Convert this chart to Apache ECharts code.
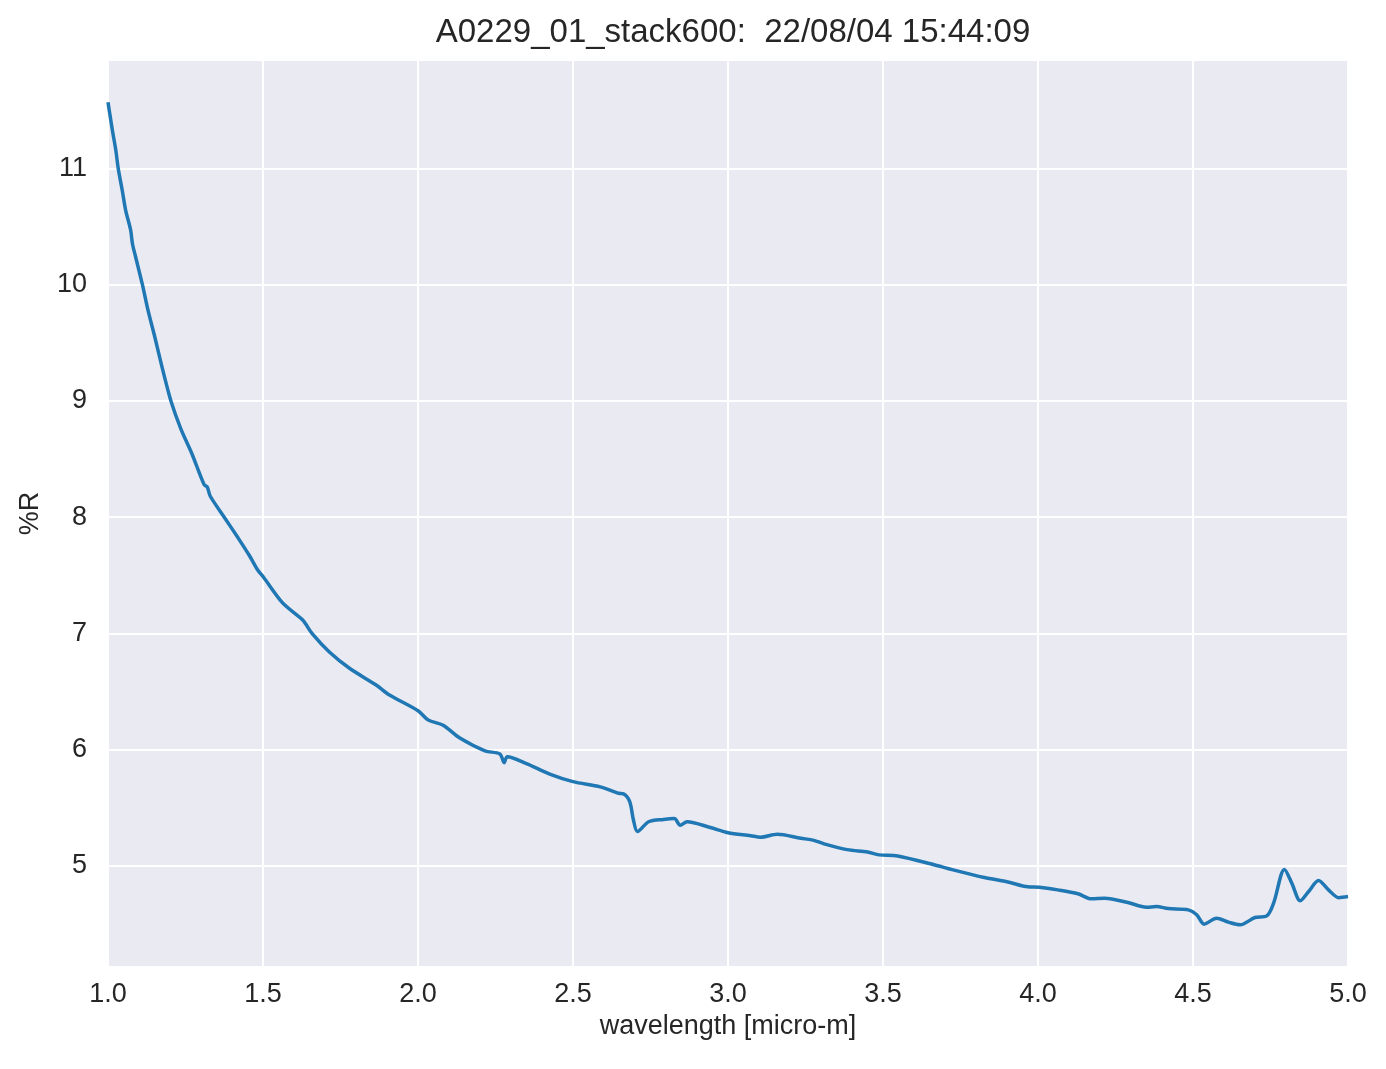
<!DOCTYPE html>
<html>
<head>
<meta charset="utf-8">
<script src="https://cdn.jsdelivr.net/npm/echarts@6/dist/echarts.min.js"></script>
<style>
  html, body { margin: 0; padding: 0; background: #ffffff; }
  #chart { width: 1386px; height: 1069px; }
</style>
</head>
<body>
<div id="chart"></div>
<script>
const titleText = 'A0229_01_stack600:  22/08/04 15:44:09';
const xLabel = 'wavelength [micro-m]';
const yLabel = '%R';
const yTicks = [5, 6, 7, 8, 9, 10, 11];

const wavelength = [
  1.000, 1.014, 1.025, 1.033, 1.046, 1.057, 1.073, 1.079, 1.089, 1.111,
  1.130, 1.151, 1.159, 1.180, 1.203, 1.235, 1.270, 1.310, 1.320, 1.330,
  1.375, 1.420, 1.456, 1.483,
  1.500, 1.564, 1.628, 1.658, 1.714, 1.779, 1.865, 1.908, 2.000, 2.033,
  2.081, 2.135, 2.216, 2.264, 2.278, 2.288, 2.350, 2.425, 2.500, 2.588,
  2.647, 2.663, 2.683, 2.695, 2.708, 2.744, 2.792, 2.827, 2.846, 2.868,
  2.943, 3.000, 3.073, 3.105, 3.159, 3.235, 3.277, 3.310, 3.385, 3.450,
  3.487, 3.547, 3.665, 3.720, 3.827, 3.903, 3.967, 4.005, 4.064, 4.129,
  4.172, 4.215, 4.290, 4.350, 4.382, 4.420, 4.485, 4.512, 4.536, 4.576,
  4.614, 4.652, 4.700, 4.738, 4.760, 4.795, 4.819, 4.846, 4.873, 4.905,
  4.937, 4.970, 5.000
];
const reflectance = [
  11.57, 11.33, 11.16, 11.00, 10.81, 10.64, 10.47, 10.35, 10.24, 10.00,
  9.77, 9.55, 9.46, 9.23, 9.00, 8.76, 8.55, 8.28, 8.26, 8.18,
  8.00, 7.82, 7.67, 7.545,
  7.49, 7.26, 7.115, 7.00, 6.84, 6.70, 6.556, 6.47, 6.335, 6.255,
  6.21, 6.10, 5.99, 5.963, 5.888, 5.94, 5.88, 5.79, 5.725, 5.68,
  5.625, 5.62, 5.553, 5.395, 5.295, 5.38, 5.40, 5.407, 5.35, 5.38,
  5.33, 5.286, 5.26, 5.247, 5.272, 5.238, 5.22, 5.19, 5.14, 5.12,
  5.095, 5.086, 5.01, 4.97, 4.90, 4.862, 4.82, 4.817, 4.794, 4.76,
  4.717, 4.722, 4.685, 4.645, 4.65, 4.633, 4.622, 4.58, 4.499, 4.55,
  4.516, 4.493, 4.556, 4.57, 4.68, 4.97, 4.85, 4.70, 4.78, 4.874,
  4.794, 4.727, 4.736
];

const seriesData = wavelength.map((w, i) => [w, reflectance[i]]);

const chart = echarts.init(document.getElementById('chart'), null, { renderer: 'canvas' });
const textColor = '#262626';
const fontFamily = '"Liberation Sans", Arial, sans-serif';

chart.setOption({
  animation: false,
  backgroundColor: '#ffffff',
  title: {
    text: titleText,
    left: 728,
    textAlign: 'center',
    top: 11,
    textStyle: { color: textColor, fontSize: 33, fontWeight: 'normal', fontFamily: fontFamily }
  },
  grid: {
    left: 108, right: 38, top: 61, bottom: 103,
    show: true, backgroundColor: '#EAEAF2', borderWidth: 0
  },
  xAxis: {
    type: 'value',
    min: 1, max: 5, interval: 0.5,
    name: xLabel,
    nameLocation: 'middle',
    nameGap: 47,
    nameTextStyle: { color: textColor, fontSize: 27, fontFamily: fontFamily },
    axisLine: { show: false },
    axisTick: { show: false },
    axisLabel: {
      color: textColor, fontSize: 27, fontFamily: fontFamily, margin: 15,
      formatter: v => v.toFixed(1)
    },
    splitLine: { show: true, lineStyle: { color: '#ffffff', width: 2 } }
  },
  yAxis: {
    type: 'value',
    min: 4.139, max: 11.924,
    name: yLabel,
    nameLocation: 'middle',
    nameGap: 64,
    nameRotate: 90,
    nameTextStyle: { color: textColor, fontSize: 27, fontFamily: fontFamily },
    axisLine: { show: false },
    axisTick: { show: false, customValues: yTicks },
    axisLabel: {
      color: textColor, fontSize: 27, fontFamily: fontFamily, margin: 21,
      customValues: yTicks,
      formatter: v => String(Math.round(v))
    },
    splitLine: { show: true, lineStyle: { color: '#ffffff', width: 2 } }
  },
  series: [{
    type: 'line',
    data: seriesData,
    showSymbol: false,
    smooth: 0.3,
    lineStyle: { color: '#1f77b4', width: 3.5 },
    z: 3
  }]
});
</script>
</body>
</html>
